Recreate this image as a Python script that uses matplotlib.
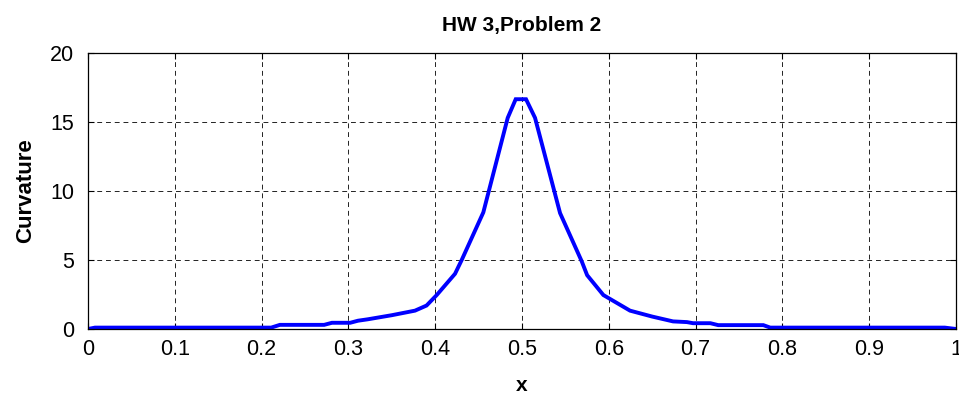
import numpy as np
import matplotlib
matplotlib.use("Agg")
import matplotlib.pyplot as plt

plt.rcParams['font.family'] = ['Liberation Sans', 'DejaVu Sans']

# curvature
x_vals = [0.0, 0.008, 0.211, 0.221, 0.272, 0.281, 0.302, 0.311, 0.322, 0.35,
          0.3767, 0.39, 0.4017, 0.4228, 0.4305, 0.4554, 0.4835, 0.4927, 0.5046,
          0.515, 0.5438, 0.5688, 0.575, 0.5937, 0.6244, 0.65, 0.674, 0.69,
          0.697, 0.717, 0.726, 0.778, 0.786, 0.987, 1.0]
curv = [0.0, 0.1, 0.1, 0.3, 0.3, 0.45, 0.45, 0.6, 0.7, 1.0,
        1.33, 1.7, 2.46, 4.0, 5.0, 8.45, 15.3, 16.65, 16.65,
        15.3, 8.4, 4.9, 3.9, 2.46, 1.33, 0.9, 0.55, 0.5,
        0.42, 0.42, 0.28, 0.28, 0.1, 0.1, 0.0]

xticks = [0, 0.1, 0.2, 0.3, 0.4, 0.5, 0.6, 0.7, 0.8, 0.9, 1]
xticklabels = ['0', '0.1', '0.2', '0.3', '0.4', '0.5', '0.6', '0.7', '0.8', '0.9', '1']
yticks = [0, 5, 10, 15, 20]

fig = plt.figure(figsize=(9.59, 3.96), dpi=100)
ax = fig.add_axes([0.0918, 0.1692, 0.9051, 0.697])

ax.plot(x_vals, curv, color='#0000ff', linewidth=2.8, solid_joinstyle='miter')

ax.set_xlim(0, 1)
ax.set_ylim(0, 20)
ax.set_xticks(xticks)
ax.set_xticklabels(xticklabels)
ax.set_yticks(yticks)
ax.tick_params(direction='in', length=4, width=0.8, labelsize=15.5,
               top=True, right=True)
ax.tick_params(axis='x', pad=7)
ax.tick_params(axis='y', pad=10)
ax.grid(True, color='#222222', linestyle=(0, (5, 4)), linewidth=0.7)
for s in ax.spines.values():
    s.set_linewidth(0.9)

ax.set_title('HW 3,Problem 2', fontsize=15, fontweight='bold', pad=16)
ax.set_xlabel('x', fontsize=15, fontweight='bold', labelpad=12)
ax.set_ylabel('Curvature', fontsize=16, fontweight='bold', labelpad=10)

fig.savefig('out.png', dpi=100)
